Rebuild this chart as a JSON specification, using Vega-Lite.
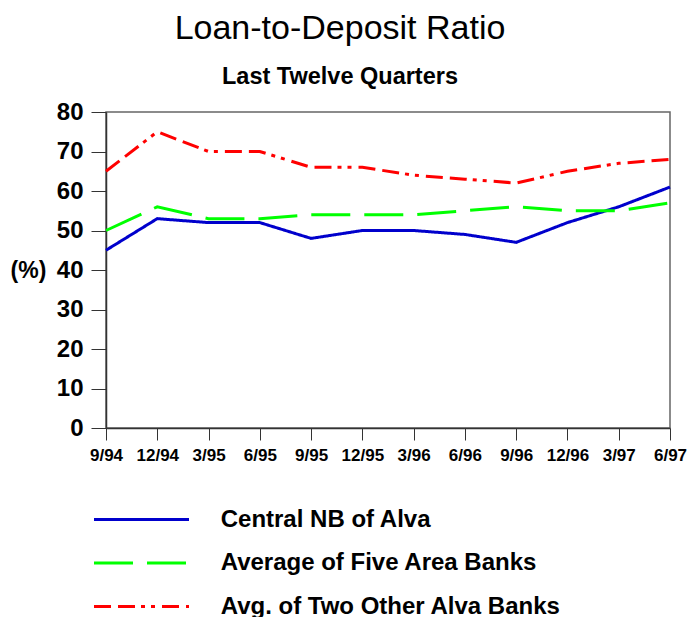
{
  "$schema": "https://vega.github.io/schema/vega-lite/v6.json",
  "width": 564,
  "height": 316,
  "autosize": {"type": "none"},
  "padding": {"left": 106, "top": 112, "right": 17, "bottom": 189},
  "background": "white",
  "title": {
    "text": "Loan-to-Deposit Ratio",
    "subtitle": "Last Twelve Quarters",
    "anchor": "middle",
    "dx": -48,
    "offset": 12,
    "font": "Liberation Sans",
    "fontSize": 34,
    "fontWeight": "normal",
    "color": "black",
    "subtitleFont": "Liberation Sans",
    "subtitleFontSize": 23.5,
    "subtitleFontWeight": "bold",
    "subtitleColor": "black",
    "subtitlePadding": 19
  },
  "config": {
    "view": {"stroke": "#666", "strokeWidth": 1.5},
    "axis": {
      "domainColor": "#333",
      "tickColor": "#333",
      "labelColor": "black",
      "labelFont": "Liberation Sans",
      "labelFontWeight": "bold",
      "grid": false
    }
  },
  "data": {
    "values": [
      {"q": "9/94", "series": "Central NB of Alva", "v": 45},
      {"q": "12/94", "series": "Central NB of Alva", "v": 53},
      {"q": "3/95", "series": "Central NB of Alva", "v": 52},
      {"q": "6/95", "series": "Central NB of Alva", "v": 52},
      {"q": "9/95", "series": "Central NB of Alva", "v": 48},
      {"q": "12/95", "series": "Central NB of Alva", "v": 50},
      {"q": "3/96", "series": "Central NB of Alva", "v": 50},
      {"q": "6/96", "series": "Central NB of Alva", "v": 49},
      {"q": "9/96", "series": "Central NB of Alva", "v": 47},
      {"q": "12/96", "series": "Central NB of Alva", "v": 52},
      {"q": "3/97", "series": "Central NB of Alva", "v": 56},
      {"q": "6/97", "series": "Central NB of Alva", "v": 61},
      {"q": "9/94", "series": "Average of Five Area Banks", "v": 50},
      {"q": "12/94", "series": "Average of Five Area Banks", "v": 56},
      {"q": "3/95", "series": "Average of Five Area Banks", "v": 53},
      {"q": "6/95", "series": "Average of Five Area Banks", "v": 53},
      {"q": "9/95", "series": "Average of Five Area Banks", "v": 54},
      {"q": "12/95", "series": "Average of Five Area Banks", "v": 54},
      {"q": "3/96", "series": "Average of Five Area Banks", "v": 54},
      {"q": "6/96", "series": "Average of Five Area Banks", "v": 55},
      {"q": "9/96", "series": "Average of Five Area Banks", "v": 56},
      {"q": "12/96", "series": "Average of Five Area Banks", "v": 55},
      {"q": "3/97", "series": "Average of Five Area Banks", "v": 55},
      {"q": "6/97", "series": "Average of Five Area Banks", "v": 57},
      {"q": "9/94", "series": "Avg. of Two Other Alva Banks", "v": 65},
      {"q": "12/94", "series": "Avg. of Two Other Alva Banks", "v": 75},
      {"q": "3/95", "series": "Avg. of Two Other Alva Banks", "v": 70},
      {"q": "6/95", "series": "Avg. of Two Other Alva Banks", "v": 70},
      {"q": "9/95", "series": "Avg. of Two Other Alva Banks", "v": 66},
      {"q": "12/95", "series": "Avg. of Two Other Alva Banks", "v": 66},
      {"q": "3/96", "series": "Avg. of Two Other Alva Banks", "v": 64},
      {"q": "6/96", "series": "Avg. of Two Other Alva Banks", "v": 63},
      {"q": "9/96", "series": "Avg. of Two Other Alva Banks", "v": 62},
      {"q": "12/96", "series": "Avg. of Two Other Alva Banks", "v": 65},
      {"q": "3/97", "series": "Avg. of Two Other Alva Banks", "v": 67},
      {"q": "6/97", "series": "Avg. of Two Other Alva Banks", "v": 68}
    ]
  },
  "mark": {"type": "line", "strokeWidth": 3},
  "encoding": {
    "x": {
      "field": "q",
      "type": "ordinal",
      "sort": null,
      "scale": {"type": "point", "padding": 0},
      "axis": {
        "title": null,
        "labelAngle": 0,
        "labelFontSize": 17,
        "tickSize": 12,
        "labelPadding": 7,
        "domainWidth": 1.5
      }
    },
    "y": {
      "field": "v",
      "type": "quantitative",
      "scale": {"domain": [0, 80], "nice": false},
      "axis": {
        "values": [0, 10, 20, 30, 40, 50, 60, 70, 80],
        "title": "(%)",
        "titleAngle": 0,
        "titleFont": "Liberation Sans",
        "titleFontSize": 23,
        "titleFontWeight": "bold",
        "titleColor": "black",
        "titleX": -78,
        "titleY": 158,
        "titleAlign": "center",
        "titleBaseline": "middle",
        "labelFontSize": 24,
        "tickSize": 15,
        "labelPadding": 8,
        "domainWidth": 1.5
      }
    },
    "color": {
      "field": "series",
      "type": "nominal",
      "sort": null,
      "scale": {
        "domain": ["Central NB of Alva", "Average of Five Area Banks", "Avg. of Two Other Alva Banks"],
        "range": ["#0000CC", "#00FF00", "#FF0000"]
      },
      "legend": {
        "title": null,
        "orient": "none",
        "legendX": 22,
        "legendY": 394,
        "symbolType": "M-4,0H4",
        "symbolSize": 564,
        "symbolStrokeWidth": 3,
        "labelOffset": 65.7,
        "labelFont": "Liberation Sans",
        "labelFontSize": 24,
        "labelFontWeight": "bold",
        "labelColor": "black",
        "labelLimit": 400,
        "rowPadding": 17.5
      }
    },
    "strokeDash": {
      "field": "series",
      "type": "nominal",
      "sort": null,
      "scale": {
        "domain": ["Central NB of Alva", "Average of Five Area Banks", "Avg. of Two Other Alva Banks"],
        "range": [[1, 0], [39, 14], [17, 7, 17, 6, 4, 6, 4, 7]]
      },
      "legend": null
    }
  }
}
